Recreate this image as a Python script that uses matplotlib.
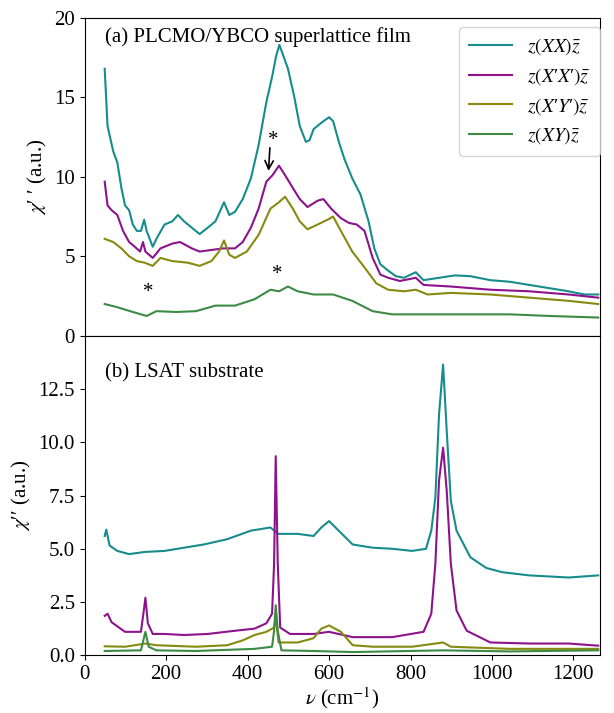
import matplotlib
matplotlib.use("Agg")
import matplotlib.pyplot as plt

plt.rcParams['font.family'] = ['Liberation Serif', 'DejaVu Serif']
plt.rcParams['mathtext.fontset'] = 'stix'
plt.rcParams['font.size'] = 15

# ---------------- Panel (a): PLCMO/YBCO superlattice film ----------------
a_xx_x = [49, 56, 70, 80, 90, 99, 109, 118, 128, 138, 146, 152, 167, 176, 196, 215, 229, 244, 263, 282,
          302, 321, 335, 342, 355, 369, 388, 408, 427, 446, 461, 470, 478, 485, 499, 514, 528, 543, 552, 562,
          581, 600, 610, 624, 638, 657, 677, 697, 711, 726, 745, 764, 784, 813, 832, 870, 909, 947, 996, 1044,
          1092, 1140, 1188, 1227, 1261]
a_xx_y = [16.8, 13.2, 11.6, 10.9, 9.3, 8.2, 7.9, 7.0, 6.6, 6.6, 7.3, 6.6, 5.6, 6.1, 7.0, 7.2, 7.6, 7.2, 6.8, 6.4,
          6.8, 7.2, 8.0, 8.4, 7.6, 7.8, 8.6, 9.9, 12.0, 14.7, 16.4, 17.6, 18.3, 17.8, 16.8, 15.1, 13.2, 12.2, 12.3, 13.0,
          13.4, 13.75, 13.5, 12.2, 11.1, 9.9, 8.9, 7.2, 5.5, 4.5, 4.1, 3.75, 3.65, 4.0, 3.5, 3.65, 3.8, 3.75, 3.5, 3.4,
          3.2, 3.0, 2.8, 2.6, 2.6]

a_xpxp_x = [49, 56, 66, 80, 94, 109, 123, 136, 143, 149, 167, 186, 215, 234, 263, 282, 311, 340, 369, 388,
            408, 427, 446, 461, 477, 492, 511, 528, 547, 572, 586, 605, 629, 649, 668, 687, 707, 726, 745, 774,
            813, 832, 899, 996, 1092, 1188, 1261]
a_xpxp_y = [9.7, 8.2, 7.9, 7.6, 6.6, 5.9, 5.6, 5.3, 5.9, 5.3, 4.9, 5.5, 5.8, 5.9, 5.5, 5.3, 5.4, 5.5, 5.5, 5.9,
            6.8, 8.0, 9.7, 10.1, 10.7, 10.1, 9.3, 8.6, 8.1, 8.5, 8.6, 8.0, 7.4, 7.1, 7.0, 6.6, 4.9, 3.85, 3.65, 3.45,
            3.65, 3.2, 3.1, 2.9, 2.8, 2.6, 2.4]

a_xpyp_x = [49, 70, 90, 109, 128, 147, 167, 186, 215, 253, 282, 311, 330, 342, 355, 369, 398, 427, 456, 477,
            492, 511, 528, 547, 572, 596, 610, 629, 657, 687, 716, 745, 784, 813, 842, 899, 996, 1092, 1188, 1261]
a_xpyp_y = [6.1, 5.9, 5.5, 5.0, 4.7, 4.6, 4.4, 4.9, 4.7, 4.6, 4.4, 4.7, 5.3, 6.0, 5.1, 4.9, 5.3, 6.35, 8.0, 8.4,
            8.75, 8.0, 7.2, 6.7, 7.0, 7.3, 7.5, 6.6, 5.3, 4.3, 3.3, 2.9, 2.8, 2.9, 2.6, 2.7, 2.6, 2.4, 2.2, 2.0]

a_xy_x = [49, 80, 118, 152, 176, 225, 273, 321, 369, 417, 456, 477, 499, 523, 562, 610, 657, 707, 755, 852,
          947, 1044, 1140, 1261]
a_xy_y = [2.0, 1.8, 1.5, 1.25, 1.55, 1.5, 1.55, 1.9, 1.9, 2.3, 2.9, 2.8, 3.1, 2.8, 2.6, 2.6, 2.2, 1.55, 1.35, 1.35,
          1.35, 1.35, 1.25, 1.15]

# ---------------- Panel (b): LSAT substrate ----------------
b_xx_x = [49, 53, 61, 80, 109, 147, 196, 244, 292, 350, 408, 456, 475, 523, 562, 581, 600, 629, 658, 707,
          755, 804, 838, 851, 861, 870, 880, 889, 899, 913, 947, 986, 1025, 1092, 1188, 1261]
b_xx_y = [5.6, 5.9, 5.15, 4.9, 4.75, 4.85, 4.9, 5.05, 5.2, 5.45, 5.85, 6.0, 5.7, 5.7, 5.6, 6.0, 6.3, 5.75, 5.2, 5.05,
          5.0, 4.9, 5.0, 5.85, 7.4, 11.3, 13.65, 10.5, 7.25, 5.85, 4.6, 4.1, 3.9, 3.75, 3.65, 3.75]

b_xpxp_x = [49, 56, 66, 99, 138, 144, 149, 155, 167, 196, 244, 302, 369, 417, 446, 460, 465, 469, 474, 480,
            504, 562, 600, 658, 755, 832, 851, 861, 870, 880, 889, 899, 913, 938, 996, 1092, 1188, 1261]
b_xpxp_y = [1.85, 1.95, 1.55, 1.1, 1.1, 1.95, 2.7, 1.5, 1.0, 1.0, 0.95, 1.0, 1.15, 1.25, 1.5, 1.95, 4.3, 9.35, 4.3, 1.3,
            1.0, 1.0, 1.1, 0.85, 0.85, 1.1, 1.95, 4.3, 8.2, 9.75, 7.7, 4.3, 2.1, 1.15, 0.6, 0.55, 0.55, 0.45]

b_xpyp_x = [49, 99, 149, 176, 273, 350, 388, 417, 446, 465, 469, 476, 523, 562, 581, 600, 629, 658, 707, 804,
            880, 899, 1044, 1261]
b_xpyp_y = [0.42, 0.4, 0.55, 0.47, 0.4, 0.47, 0.7, 0.95, 1.1, 1.3, 1.8, 0.6, 0.6, 0.8, 1.25, 1.4, 1.1, 0.47, 0.4, 0.4,
            0.6, 0.4, 0.3, 0.3]

b_xy_x = [49, 138, 149, 157, 176, 273, 417, 460, 465, 469, 474, 483, 562, 658, 880, 1044, 1261]
b_xy_y = [0.2, 0.23, 1.1, 0.4, 0.23, 0.2, 0.3, 0.4, 1.15, 2.35, 1.15, 0.23, 0.2, 0.15, 0.23, 0.18, 0.23]

labels = [r"$z(XX)\bar{z}$", "$z(X$\u2032$X$\u2032$)\\bar{z}$", "$z(X$\u2032$Y$\u2032$)\\bar{z}$", r"$z(XY)\bar{z}$"]
colors = ["#178c8c", "#8c138c", "#878a0f", "#3d8a45"]

fig = plt.figure(figsize=(6.14, 7.13), dpi=100)
ax1 = fig.add_axes([0.138, 0.529, 0.839, 0.446])
ax2 = fig.add_axes([0.138, 0.081, 0.839, 0.448], sharex=ax1)

top = [(a_xx_x, a_xx_y), (a_xpxp_x, a_xpxp_y), (a_xpyp_x, a_xpyp_y), (a_xy_x, a_xy_y)]
bot = [(b_xx_x, b_xx_y), (b_xpxp_x, b_xpxp_y), (b_xpyp_x, b_xpyp_y), (b_xy_x, b_xy_y)]

for (x, y), c, l in zip(top, colors, labels):
    ax1.plot(x, y, color=c, lw=1.5, label=l)
for (x, y), c in zip(bot, colors):
    ax2.plot(x, y, color=c, lw=1.5)

ax1.set_xlim(0, 1265)
ax1.set_ylim(0, 20)
ax2.set_ylim(0, 15)
ax1.set_yticks([0, 5, 10, 15, 20])
ax2.set_yticks([0, 2.5, 5.0, 7.5, 10.0, 12.5])
ax2.set_yticklabels(["0.0", "2.5", "5.0", "7.5", "10.0", "12.5"])
ax2.set_xticks([0, 200, 400, 600, 800, 1000, 1200])
plt.setp(ax1.get_xticklabels(), visible=False)

ax1.set_ylabel("$\\chi$\u2032 \u2032 (a.u.)")
ax2.set_ylabel("$\\chi$\u2032\u2032 (a.u.)")
ax2.set_xlabel(r"$\nu$ (cm$^{-1}$)", labelpad=1)

ax1.text(0.04, 0.94, "(a) PLCMO/YBCO superlattice film", transform=ax1.transAxes, va='center', ha='left')
ax2.text(0.04, 0.885, "(b) LSAT substrate", transform=ax2.transAxes, va='center', ha='left')

ax1.legend(loc='upper right', bbox_to_anchor=(1.0, 0.972), borderaxespad=0.0, fontsize=14,
           labelspacing=0.45, handlelength=2.2, borderpad=0.5)

ax1.annotate("", xy=(451, 10.2), xytext=(455, 12.0),
             arrowprops=dict(arrowstyle='->', color='black', lw=1.2))
ax1.text(463, 12.3, "*", ha='center', va='center', fontsize=15)
ax1.text(157, 2.75, "*", ha='center', va='center', fontsize=15)
ax1.text(472, 3.85, "*", ha='center', va='center', fontsize=15)

fig.savefig("out.png", dpi=100)
